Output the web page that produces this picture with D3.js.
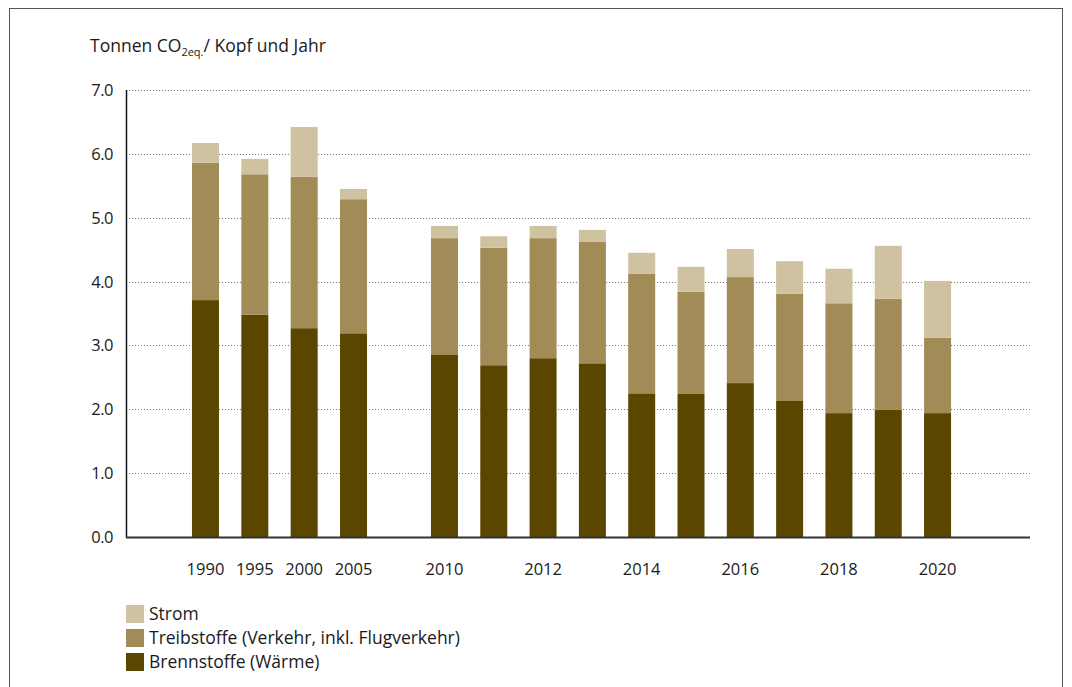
<!DOCTYPE html>
<html><head><meta charset="utf-8">
<script src="https://cdn.jsdelivr.net/npm/d3@7"></script>
<style>body{margin:0;background:#fff}svg{display:block}text{font-family:"Open Sans",sans-serif;fill:#1a1a1a}</style>
</head><body><svg id="c" width="1072" height="687"></svg>
<script>
const yearsA = ["1990","1995","2000","2005"];
const yearsB = ["2010","2011","2012","2013","2014","2015","2016","2017","2018","2019","2020"];
const shownLabels = ["1990","1995","2000","2005","2010","2012","2014","2016","2018","2020"];
const brennstoffe = [3.71,3.48,3.27,3.19, 2.85,2.69,2.80,2.72,2.25,2.24,2.41,2.13,1.94,1.99,1.94];
const treibstoffe = [2.15,2.20,2.37,2.10, 1.83,1.84,1.88,1.90,1.87,1.60,1.66,1.68,1.72,1.74,1.18];
const strom       = [0.31,0.24,0.78,0.16, 0.19,0.18,0.19,0.19,0.33,0.39,0.44,0.51,0.54,0.83,0.89];
const yTicks = [0,1,2,3,4,5,6,7];
const seriesNames = ["Brennstoffe (Wärme)","Treibstoffe (Verkehr, inkl. Flugverkehr)","Strom"];
const colors = ["#5b4600","#a18b57","#cfc2a1"];

const svg = d3.select("#c");
svg.append("rect").attr("x",9.5).attr("y",8.5).attr("width",1053).attr("height",700)
  .attr("fill","none").attr("stroke","#555").attr("stroke-width",1);

const y = d3.scaleLinear().domain([0,7]).range([537,90]);
const xA = d3.scaleBand().domain(yearsA).range([180.8,378.2]).paddingInner(0.453).paddingOuter(0.2265);
const xB = d3.scaleBand().domain(yearsB).range([419.8,962.2]).paddingInner(0.453).paddingOuter(0.2265);
const xPos = yr => yearsA.includes(yr) ? xA(yr) : xB(yr);
const bw = xA.bandwidth();

// grid
svg.append("g").selectAll("line").data(yTicks.filter(d=>d>0)).join("line")
  .attr("x1",129).attr("x2",1030).attr("y1",d=>Math.round(y(d))+0.5).attr("y2",d=>Math.round(y(d))+0.5)
  .attr("stroke","#777").attr("stroke-width",1).attr("stroke-dasharray","1,2");

// y labels
svg.append("g").selectAll("text").data(yTicks).join("text")
  .attr("x",113).attr("y",d=>y(d)).attr("dy","0.36em").attr("text-anchor","end")
  .attr("font-size",16.5).attr("letter-spacing",-0.5).text(d=>d3.format(".1f")(d));

// stacked data
const allYears = yearsA.concat(yearsB);
const rows = allYears.map((yr,i)=>({year:yr, b:brennstoffe[i], t:treibstoffe[i], s:strom[i]}));
const stack = d3.stack().keys(["b","t","s"])(rows);
svg.append("g").selectAll("g").data(stack).join("g").attr("fill",(d,i)=>colors[i])
  .selectAll("rect").data(d=>d).join("rect")
  .attr("x",d=>xPos(d.data.year)).attr("width",bw)
  .attr("y",d=>y(d[1])).attr("height",d=>y(d[0])-y(d[1]));

// axes lines
svg.append("line").attr("x1",126.5).attr("x2",126.5).attr("y1",90).attr("y2",538).attr("stroke","#111").attr("stroke-width",1.5);
svg.append("line").attr("x1",126).attr("x2",1030).attr("y1",537.5).attr("y2",537.5).attr("stroke","#333").attr("stroke-width",2);

// x labels
svg.append("g").selectAll("text").data(shownLabels).join("text")
  .attr("x",d=>xPos(d)+bw/2).attr("y",575).attr("text-anchor","middle").attr("font-size",16.5).text(d=>d);

// title
const t = svg.append("text").attr("x",90).attr("y",52).attr("font-size",17.5);
t.append("tspan").text("Tonnen CO");
t.append("tspan").attr("font-size",11).attr("dy",4).text("2eq.");
t.append("tspan").attr("dy",-4).text("/ Kopf und Jahr");

// legend
const leg = [2,1,0];
const lg = svg.append("g").selectAll("g").data(leg).join("g")
  .attr("transform",(d,i)=>`translate(126,${605+i*24})`);
lg.append("rect").attr("width",18).attr("height",18).attr("fill",d=>colors[d]);
lg.append("text").attr("x",23).attr("y",9).attr("dy","0.36em").attr("font-size",17.5).text(d=>seriesNames[d]);
</script></body></html>
